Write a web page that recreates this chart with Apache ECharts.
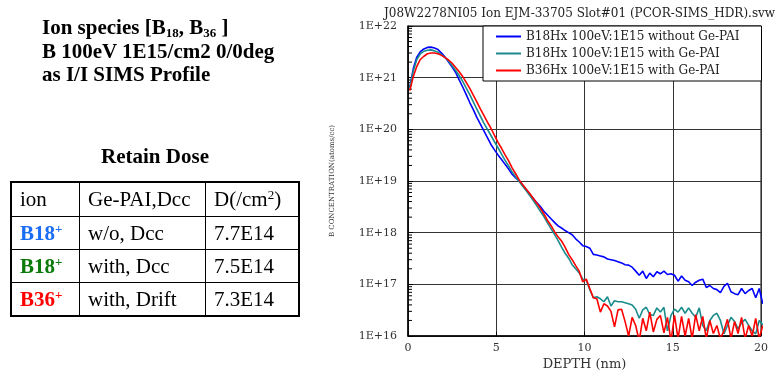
<!DOCTYPE html>
<html>
<head>
<meta charset="utf-8">
<script src="https://cdn.jsdelivr.net/npm/echarts@6/dist/echarts.min.js"></script>
<style>
  html, body { margin: 0; padding: 0; background: #fff; }
  #wrap { position: relative; width: 779px; height: 371px; overflow: hidden; }
  #chart { position: absolute; left: 0; top: 0; width: 779px; height: 371px; }
  #left { position: absolute; left: 0; top: 0; width: 320px; height: 371px; z-index: 2;
          font-family: "Liberation Serif", "Times New Roman", serif; color: #000; }
  #head { position: absolute; left: 42px; top: 16px; font-weight: bold; font-size: 21px; line-height: 23.5px; white-space: nowrap; }
  #head sub { font-size: 13px; vertical-align: -3px; line-height: 0; }
  #doseTitle { position: absolute; left: 10px; width: 290px; top: 144px; text-align: center; font-weight: bold; font-size: 21px; }
  #dose { position: absolute; left: 10px; top: 181px; border-collapse: collapse; border: 2px solid #000; font-size: 21px; }
  #dose td { border: 1.5px solid #000; padding: 0 0 0 8px; height: 32px; white-space: nowrap; }
  #dose sup { font-size: 13px; vertical-align: 7px; line-height: 0; }
  .ion { font-weight: bold; }
</style>
</head>
<body>
<div id="wrap">
  <div id="chart"></div>
  <div id="left">
    <div id="head">Ion species [B<sub>18</sub>, B<sub>36</sub> ]<br>B 100eV 1E15/cm2 0/0deg<br>as I/I SIMS Profile</div>
    <div id="doseTitle">Retain Dose</div>
    <table id="dose"></table>
  </div>
</div>
<script>
// retain dose table
const tableHead = ['ion', 'Ge-PAI,Dcc', 'D(/cm<sup>2</sup>)']
const ions = ['B18', 'B18', 'B36']
const ionColors = ['#1a6ef5', '#0a7a0a', '#ff0000']
const conditions = ['w/o, Dcc', 'with, Dcc', 'with, Drift']
const doses = ['7.7E14', '7.5E14', '7.3E14']
const colWidths = [68, 126, 93]

// SIMS profiles: depth (nm) and B concentration (atoms/cc)
const depth = [0.1,0.3,0.5,0.7,0.9,1.1,1.3,1.5,1.7,1.9,2.1,2.3,2.5,2.7,2.9,3.1,3.3,3.5,3.7,3.9,
  4.1,4.3,4.5,4.7,4.9,5.1,5.3,5.5,5.7,5.9,6.1,6.3,6.5,6.7,6.9,7.1,7.3,7.5,7.7,7.9,
  8.1,8.3,8.5,8.7,8.9,9.1,9.3,9.5,9.7,9.9,10.1,10.3,10.5,10.7,10.9,11.1,11.3,11.5,11.7,11.9,
  12.1,12.3,12.5,12.7,12.9,13.1,13.3,13.5,13.7,13.9,14.1,14.3,14.5,14.7,14.9,15.1,15.3,15.5,15.7,15.9,
  16.1,16.3,16.5,16.7,16.9,17.1,17.3,17.5,17.7,17.9,18.1,18.3,18.5,18.7,18.9,19.1,19.3,19.5,19.7,19.9,20.1]

const b18NoPai = [6.3e20,1.5e21,2.5e21,3.2e21,3.6e21,3.85e21,3.9e21,3.75e21,3.5e21,3.0e21,
  2.5e21,2.0e21,1.6e21,1.26e21,9.1e20,6.6e20,4.7e20,3.3e20,2.4e20,1.7e20,
  1.26e20,9.3e19,6.9e19,5.1e19,4.0e19,3.2e19,2.6e19,2.1e19,1.7e19,1.35e19,
  1.15e19,1.0e19,8.3e18,6.8e18,5.5e18,4.6e18,3.8e18,3.2e18,2.6e18,2.2e18,
  1.86e18,1.58e18,1.35e18,1.23e18,1.1e18,1.0e18,9.1e17,7.6e17,6.6e17,5.6e17,
  5.4e17,5.0e17,3.8e17,3.7e17,3.55e17,3.4e17,3.1e17,3.0e17,2.9e17,2.75e17,
  2.6e17,2.4e17,2.35e17,2.15e17,1.8e17,1.5e17,1.8e17,1.3e17,1.65e17,1.4e17,
  1.75e17,1.6e17,1.8e17,1.55e17,1.6e17,1.5e17,1.15e17,1.45e17,1.2e17,1.12e17,
  9.5e16,1.1e17,1.2e17,1.26e17,8.7e16,9.5e16,8.3e16,7.9e16,6.9e16,9.1e16,
  1.05e17,7.2e16,6.6e16,6.3e16,8.3e16,6.6e16,7.6e16,8.3e16,5.5e16,8.3e16,
  4.2e16]

const b18Pai = [6.3e20,1.35e21,2.25e21,2.9e21,3.25e21,3.4e21,3.45e21,3.3e21,3.1e21,2.8e21,
  2.45e21,2.1e21,1.7e21,1.38e21,1.1e21,8.5e20,6.3e20,4.7e20,3.4e20,2.45e20,
  1.8e20,1.32e20,1.0e20,7.6e19,5.75e19,4.4e19,3.3e19,2.5e19,1.95e19,1.5e19,
  1.2e19,9.8e18,7.9e18,6.5e18,5.25e18,4.2e18,3.3e18,2.6e18,2.05e18,1.55e18,
  1.2e18,9.3e17,7.1e17,5.25e17,4.0e17,3.2e17,2.4e17,2.0e17,1.66e17,1.26e17,
  1.2e17,7.9e16,5.5e16,5.75e16,5.25e16,4.6e16,5.75e16,3.8e16,4.8e16,4.6e16,
  4.6e16,4.4e16,4.2e16,4.0e16,3.3e16,2.2e16,3.2e16,3.6e16,2.6e16,2.5e16,
  3.5e16,2.9e16,3.6e16,1.26e16,2.5e16,3.3e16,2.9e16,3.6e16,2.75e16,3.5e16,
  2.75e16,2.3e16,3.5e16,1.6e16,1.26e16,2.0e16,2.5e16,2.75e16,2.0e16,1.1e16,
  1.6e16,2.3e16,1.9e16,1.38e16,1.8e16,2.1e16,1.6e16,1.26e16,1.1e16,2.0e16,
  1.66e16]

const b36Pai = [5.6e20,1.05e21,1.66e21,2.25e21,2.6e21,2.9e21,3.0e21,3.0e21,2.9e21,2.7e21,
  2.45e21,2.2e21,1.9e21,1.58e21,1.3e21,1.05e21,8.1e20,6.2e20,4.6e20,3.4e20,
  2.5e20,1.86e20,1.38e20,1.05e20,7.6e19,5.6e19,4.3e19,3.2e19,2.45e19,1.8e19,
  1.38e19,1.05e19,8.5e18,6.9e18,5.75e18,4.6e18,3.7e18,2.95e18,2.3e18,1.74e18,
  1.38e18,1.05e18,8.3e17,6.9e17,5.25e17,3.8e17,3.0e17,2.3e17,1.8e17,1.12e17,
  1.26e17,8.3e16,5.5e16,5.25e16,2.9e16,4.2e16,3.8e16,3.0e16,1.5e16,3.2e16,
  3.3e16,1.9e16,1.0e16,2.3e16,1.6e16,8e15,2.2e16,1.26e16,2.9e16,1.2e16,
  2.1e16,2.5e16,1.15e16,2.3e16,8e15,2.5e16,8.9e15,2.4e16,1.0e16,2.2e16,
  8.9e15,2.6e16,1.26e16,2.4e16,8.9e15,2.0e16,1.12e16,1.6e16,8.9e15,1.26e16,
  2.1e16,8.9e15,1.9e16,1.12e16,2.3e16,8.9e15,1.6e16,1.0e16,2.2e16,8.9e15,
  1.6e16]

const seriesNames = [
  'B18Hx 100eV:1E15 without Ge-PAI',
  'B18Hx 100eV:1E15 with Ge-PAI',
  'B36Hx 100eV:1E15 with Ge-PAI'
]
const seriesColors = ['#0000ff', '#1a8c8c', '#ff0000']
const profiles = [b18NoPai, b18Pai, b36Pai]

const yMin = 1e16, yMax = 1e22

// build table
const tbl = document.getElementById('dose')
let html = '<tr>' + tableHead.map((h, i) => `<td style="width:${colWidths[i] - 9}px;height:33px">${h}</td>`).join('') + '</tr>'
ions.forEach((ion, i) => {
  html += `<tr><td class="ion" style="color:${ionColors[i]}">${ion}<sup>+</sup></td><td>${conditions[i]}</td><td>${doses[i]}</td></tr>`
})
tbl.innerHTML = html

// log minor ticks (2..9 per decade)
const minorTicks = []
for (let e = 16; e < 22; e++) {
  for (let m = 2; m <= 9; m++) minorTicks.push([0, m * Math.pow(10, e)])
}

const serif = 'DejaVu Serif'
const chart = echarts.init(document.getElementById('chart'))

chart.setOption({
  animation: false,
  backgroundColor: '#fff',
  title: {
    text: 'J08W2278NI05 Ion EJM-33705 Slot#01 (PCOR-SIMS_HDR).svw',
    left: 379,
    top: 3,
    textStyle: { fontFamily: serif, fontSize: 12, fontWeight: 'normal', color: '#222' }
  },
  legend: {
    data: seriesNames,
    orient: 'vertical',
    left: 483,
    top: 26,
    padding: [3, 22, 3, 13],
    itemGap: 2,
    itemWidth: 25,
    itemHeight: 2,
    icon: 'rect',
    backgroundColor: '#fff',
    borderColor: '#000',
    borderWidth: 1,
    textStyle: { fontFamily: serif, fontSize: 12, color: '#222', lineHeight: 15 }
  },
  grid: {
    left: 408, right: 18, top: 26, bottom: 35,
    outerBoundsMode: 'none',
    show: true, borderColor: '#000', borderWidth: 1
  },
  xAxis: {
    type: 'value',
    min: 0, max: 20, interval: 5,
    name: 'DEPTH (nm)',
    nameLocation: 'middle',
    nameGap: 22,
    nameMoveOverlap: false,
    nameTextStyle: { fontFamily: serif, fontSize: 13, color: '#333' },
    axisLine: { lineStyle: { color: '#000', width: 1.5 } },
    axisTick: { inside: true, length: 4, lineStyle: { color: '#000' } },
    axisLabel: { fontFamily: serif, fontSize: 11, color: '#333', margin: 7 },
    splitLine: { lineStyle: { color: '#333', width: 1 } }
  },
  yAxis: {
    type: 'log',
    logBase: 10,
    min: yMin, max: yMax,
    splitNumber: 6,
    name: 'B CONCENTRATION(atoms/cc)',
    nameLocation: 'middle',
    nameRotate: 90,
    nameGap: 72,
    nameMoveOverlap: false,
    nameTextStyle: { fontFamily: serif, fontSize: 7, color: '#333' },
    axisLine: { lineStyle: { color: '#000', width: 1.5 } },
    axisTick: { inside: true, length: 5, lineStyle: { color: '#000' } },
    axisLabel: {
      fontFamily: serif, fontSize: 11, color: '#333', margin: 11,
      formatter: v => '1E+' + Math.round(Math.log10(v))
    },
    splitLine: { lineStyle: { color: '#333', width: 1 } }
  },
  series: [
    ...profiles.map((vals, k) => ({
      name: seriesNames[k],
      type: 'line',
      showSymbol: false,
      data: depth.map((d, i) => [d, vals[i]]),
      lineStyle: { color: seriesColors[k], width: 1.6 },
      itemStyle: { color: seriesColors[k] },
      z: 3 + k
    })),
    {
      type: 'custom',
      silent: true,
      data: minorTicks,
      renderItem: (params, api) => {
        const p = api.coord([0, api.value(1)])
        return {
          type: 'line',
          shape: { x1: p[0], y1: p[1], x2: p[0] + 4, y2: p[1] },
          style: { stroke: '#000', lineWidth: 1 }
        }
      },
      z: 2
    }
  ]
})
</script>
</body>
</html>
